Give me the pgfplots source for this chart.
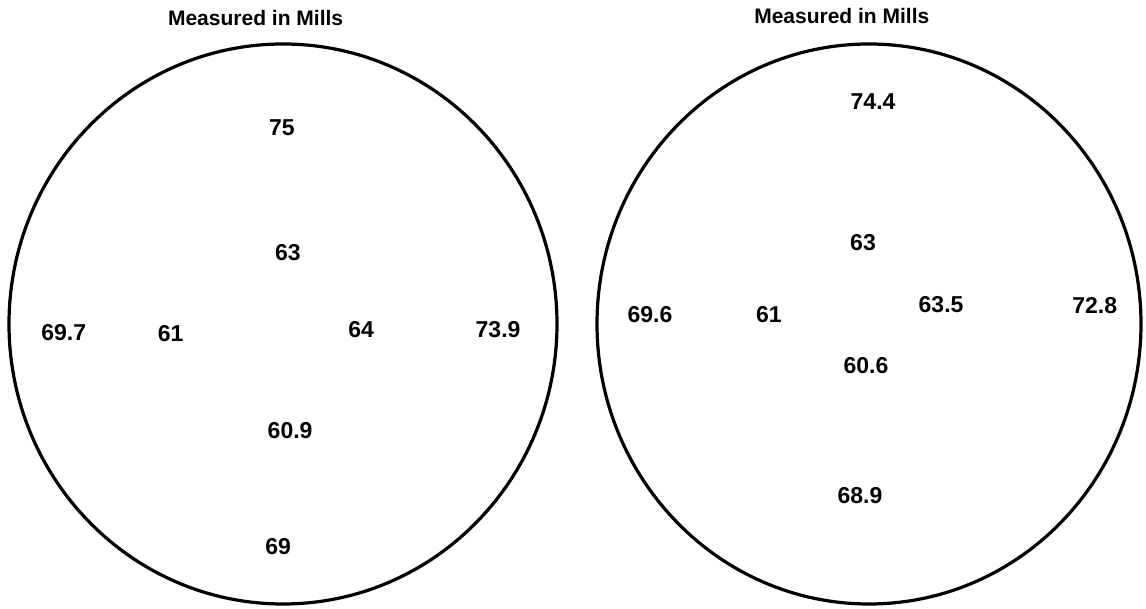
\documentclass[border=0pt]{standalone}
\usepackage{fontspec}
\setmainfont{Liberation Sans}
\usepackage{pgfplots}
\usepackage{pgfplotstable}
\pgfplotsset{compat=1.18}

% label positions: x, y relative to the disk (radius 1), and the measured value
\pgfplotstableread{
x      y      label
-0.004 0.70   75
0.018  0.254  63
-0.80  -0.03  69.7
-0.41  -0.035 61
0.285  -0.02  64
0.785  -0.02  73.9
0.026  -0.379 60.9
-0.018 -0.796 69
}\leftdata

\pgfplotstableread{
x      y      label
0.015  0.796  74.4
-0.022 0.29   63
-0.805 0.035  69.6
-0.368 0.035  61
0.265  0.07   63.5
0.83   0.065  72.8
-0.011 -0.147 60.6
-0.033 -0.613 68.9
}\rightdata

\pgfplotsset{
  disk/.style={
    scale only axis, axis lines=none,
    xmin=-1, xmax=1, ymin=-1, ymax=1,
    clip=false, anchor=south west,
    nodes near coords align={center},
    every node near coord/.append style={font=\bfseries\fontsize{11.5}{13}\selectfont, text=black, inner sep=0pt},
  },
}

\begin{document}
\begin{tikzpicture}
\useasboundingbox (0,0) rectangle (573pt,304.5pt);

\begin{axis}[disk, at={(4.5pt,2.5pt)}, width=274pt, height=280pt]
  \draw[line width=1.6pt] (axis cs:0,0) ellipse [x radius=1, y radius=1];
  \addplot[only marks, mark=none, nodes near coords, point meta=explicit symbolic]
    table[x=x, y=y, meta=label] {\leftdata};
  \node[font=\bfseries\fontsize{10.5}{12}\selectfont] at (axis cs:-0.10,1.093) {Measured in Mills};
\end{axis}

\begin{axis}[disk, at={(298.5pt,2.5pt)}, width=272pt, height=280pt]
  \draw[line width=1.6pt] (axis cs:0,0) ellipse [x radius=1, y radius=1];
  \addplot[only marks, mark=none, nodes near coords, point meta=explicit symbolic]
    table[x=x, y=y, meta=label] {\rightdata};
  \node[font=\bfseries\fontsize{10.5}{12}\selectfont] at (axis cs:-0.10,1.10) {Measured in Mills};
\end{axis}
\end{tikzpicture}
\end{document}
